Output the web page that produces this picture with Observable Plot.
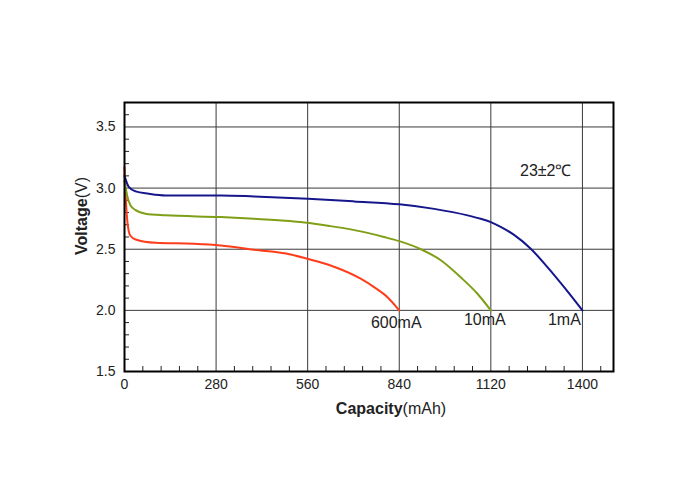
<!DOCTYPE html>
<html>
<head>
<meta charset="utf-8">
<script src="https://cdn.jsdelivr.net/npm/d3@7"></script>
<script src="https://cdn.jsdelivr.net/npm/@observablehq/plot@0.6"></script>
<style>
  html, body { margin: 0; padding: 0; background: #fff; }
  #chart { width: 700px; height: 500px; }
  #chart svg text { font-family: "Liberation Sans", Arial, sans-serif; }
</style>
</head>
<body>
<div id="chart"></div>
<script>
// ---- data ----
const xTicks = [0, 280, 560, 840, 1120, 1400];
const xMinor = [56, 112, 168, 224, 336, 392, 448, 504, 616, 672, 728, 784, 896, 952, 1008, 1064, 1176, 1232, 1288, 1344, 1456];
const yTicks = [1.5, 2.0, 2.5, 3.0, 3.5];
const yMinor = [1.6, 1.7, 1.8, 1.9, 2.1, 2.2, 2.3, 2.4, 2.6, 2.7, 2.8, 2.9, 3.1, 3.2, 3.3, 3.4, 3.6];

const cap1mA = [0, 13, 34, 74, 125, 294, 396, 561, 702, 840, 947, 1049, 1089, 1120, 1150, 1191, 1242, 1293, 1344, 1400];
const v1mA   = [3.10, 3.01, 2.973, 2.954, 2.94, 2.94, 2.932, 2.913, 2.891, 2.867, 2.83, 2.777, 2.749, 2.722, 2.683, 2.617, 2.504, 2.354, 2.19, 2.0];

const cap10mA = [0, 8, 18, 34, 64, 125, 294, 396, 508, 559, 630, 722, 793, 840, 906, 967, 1028, 1079, 1120];
const v10mA   = [3.06, 2.94, 2.86, 2.82, 2.79, 2.777, 2.763, 2.749, 2.73, 2.717, 2.689, 2.646, 2.6, 2.566, 2.50, 2.41, 2.27, 2.136, 2.0];

const cap600mA = [0, 3, 9, 18, 34, 95, 212, 294, 396, 508, 559, 630, 722, 763, 804, 840];
const v600mA   = [3.17, 2.97, 2.72, 2.61, 2.58, 2.553, 2.545, 2.531, 2.496, 2.457, 2.422, 2.367, 2.259, 2.19, 2.108, 2.0];

const seriesLabels = ["1mA", "10mA", "600mA"];
const tempLabel = "23±2℃";

// ---- build tables ----
const toRows = (c, v) => c.map((x, i) => ({cap: x, v: v[i]}));
const d1 = toRows(cap1mA, v1mA);
const d10 = toRows(cap10mA, v10mA);
const d600 = toRows(cap600mA, v600mA);

const W = 700, H = 500, ML = 124, MR = 87, MT = 102, MB = 129;
const plotW = W - ML - MR, plotH = H - MT - MB;

const font = "Liberation Sans, Arial, sans-serif";

const chart = Plot.plot({
  width: W, height: H,
  marginLeft: ML, marginRight: MR, marginTop: MT, marginBottom: MB,
  style: {fontSize: "14px", fontFamily: font, color: "#222", background: "#fff"},
  x: {domain: [0, 1495]},
  y: {domain: [1.5, 3.7]},
  marks: [
    Plot.gridX(xTicks, {stroke: "#3a3a3a", strokeOpacity: 1, strokeWidth: 1}),
    Plot.gridY(yTicks, {stroke: "#3a3a3a", strokeOpacity: 1, strokeWidth: 1}),
    Plot.ruleY(yMinor, {y: d => d, insetRight: plotW - 5, stroke: "#222", strokeWidth: 1}),
    Plot.ruleX(xMinor, {x: d => d, insetTop: plotH - 5, stroke: "#222", strokeWidth: 1}),
    Plot.axisX(xTicks, {tickSize: 0, tickPadding: 8, fontSize: 14, label: null, tickFormat: d => String(d)}),
    Plot.axisY(yTicks, {tickSize: 0, tickPadding: 9, fontSize: 14, label: null, tickFormat: d3.format(".1f")}),
    Plot.line(d600, {x: "cap", y: "v", stroke: "#ff3d1a", strokeWidth: 2, curve: "monotone-x"}),
    Plot.line(d10, {x: "cap", y: "v", stroke: "#7f9f16", strokeWidth: 2, curve: "monotone-x"}),
    Plot.line(d1, {x: "cap", y: "v", stroke: "#16168c", strokeWidth: 2, curve: "monotone-x"}),
    Plot.frame({stroke: "#000", strokeWidth: 2}),
    Plot.text([d600[d600.length - 1]], {x: "cap", y: "v", text: () => seriesLabels[2], dx: -3, dy: 13, fontSize: 16, fill: "#222"}),
    Plot.text([d10[d10.length - 1]], {x: "cap", y: "v", text: () => seriesLabels[1], dx: -6, dy: 10, fontSize: 16, fill: "#222"}),
    Plot.text([d1[d1.length - 1]], {x: "cap", y: "v", text: () => seriesLabels[0], dx: -18, dy: 10, fontSize: 16, fill: "#222"}),
    Plot.text([tempLabel], {frameAnchor: "top-right", text: d => d, dx: -42, dy: 62, textAnchor: "end", fontSize: 16, fill: "#222"})
  ]
});

document.getElementById("chart").appendChild(chart);

// axis titles with bold + normal parts
const svg = d3.select(chart);
const yt = svg.append("text")
  .attr("transform", "translate(87,216) rotate(-90)")
  .attr("text-anchor", "middle")
  .attr("font-size", 16)
  .attr("fill", "#222");
yt.append("tspan").attr("font-weight", "bold").text("Voltage");
yt.append("tspan").text("(V)");

const xt = svg.append("text")
  .attr("x", 391).attr("y", 408)
  .attr("dy", "0.35em")
  .attr("text-anchor", "middle")
  .attr("font-size", 16)
  .attr("fill", "#222");
xt.append("tspan").attr("font-weight", "bold").text("Capacity");
xt.append("tspan").text("(mAh)");
</script>
</body>
</html>
